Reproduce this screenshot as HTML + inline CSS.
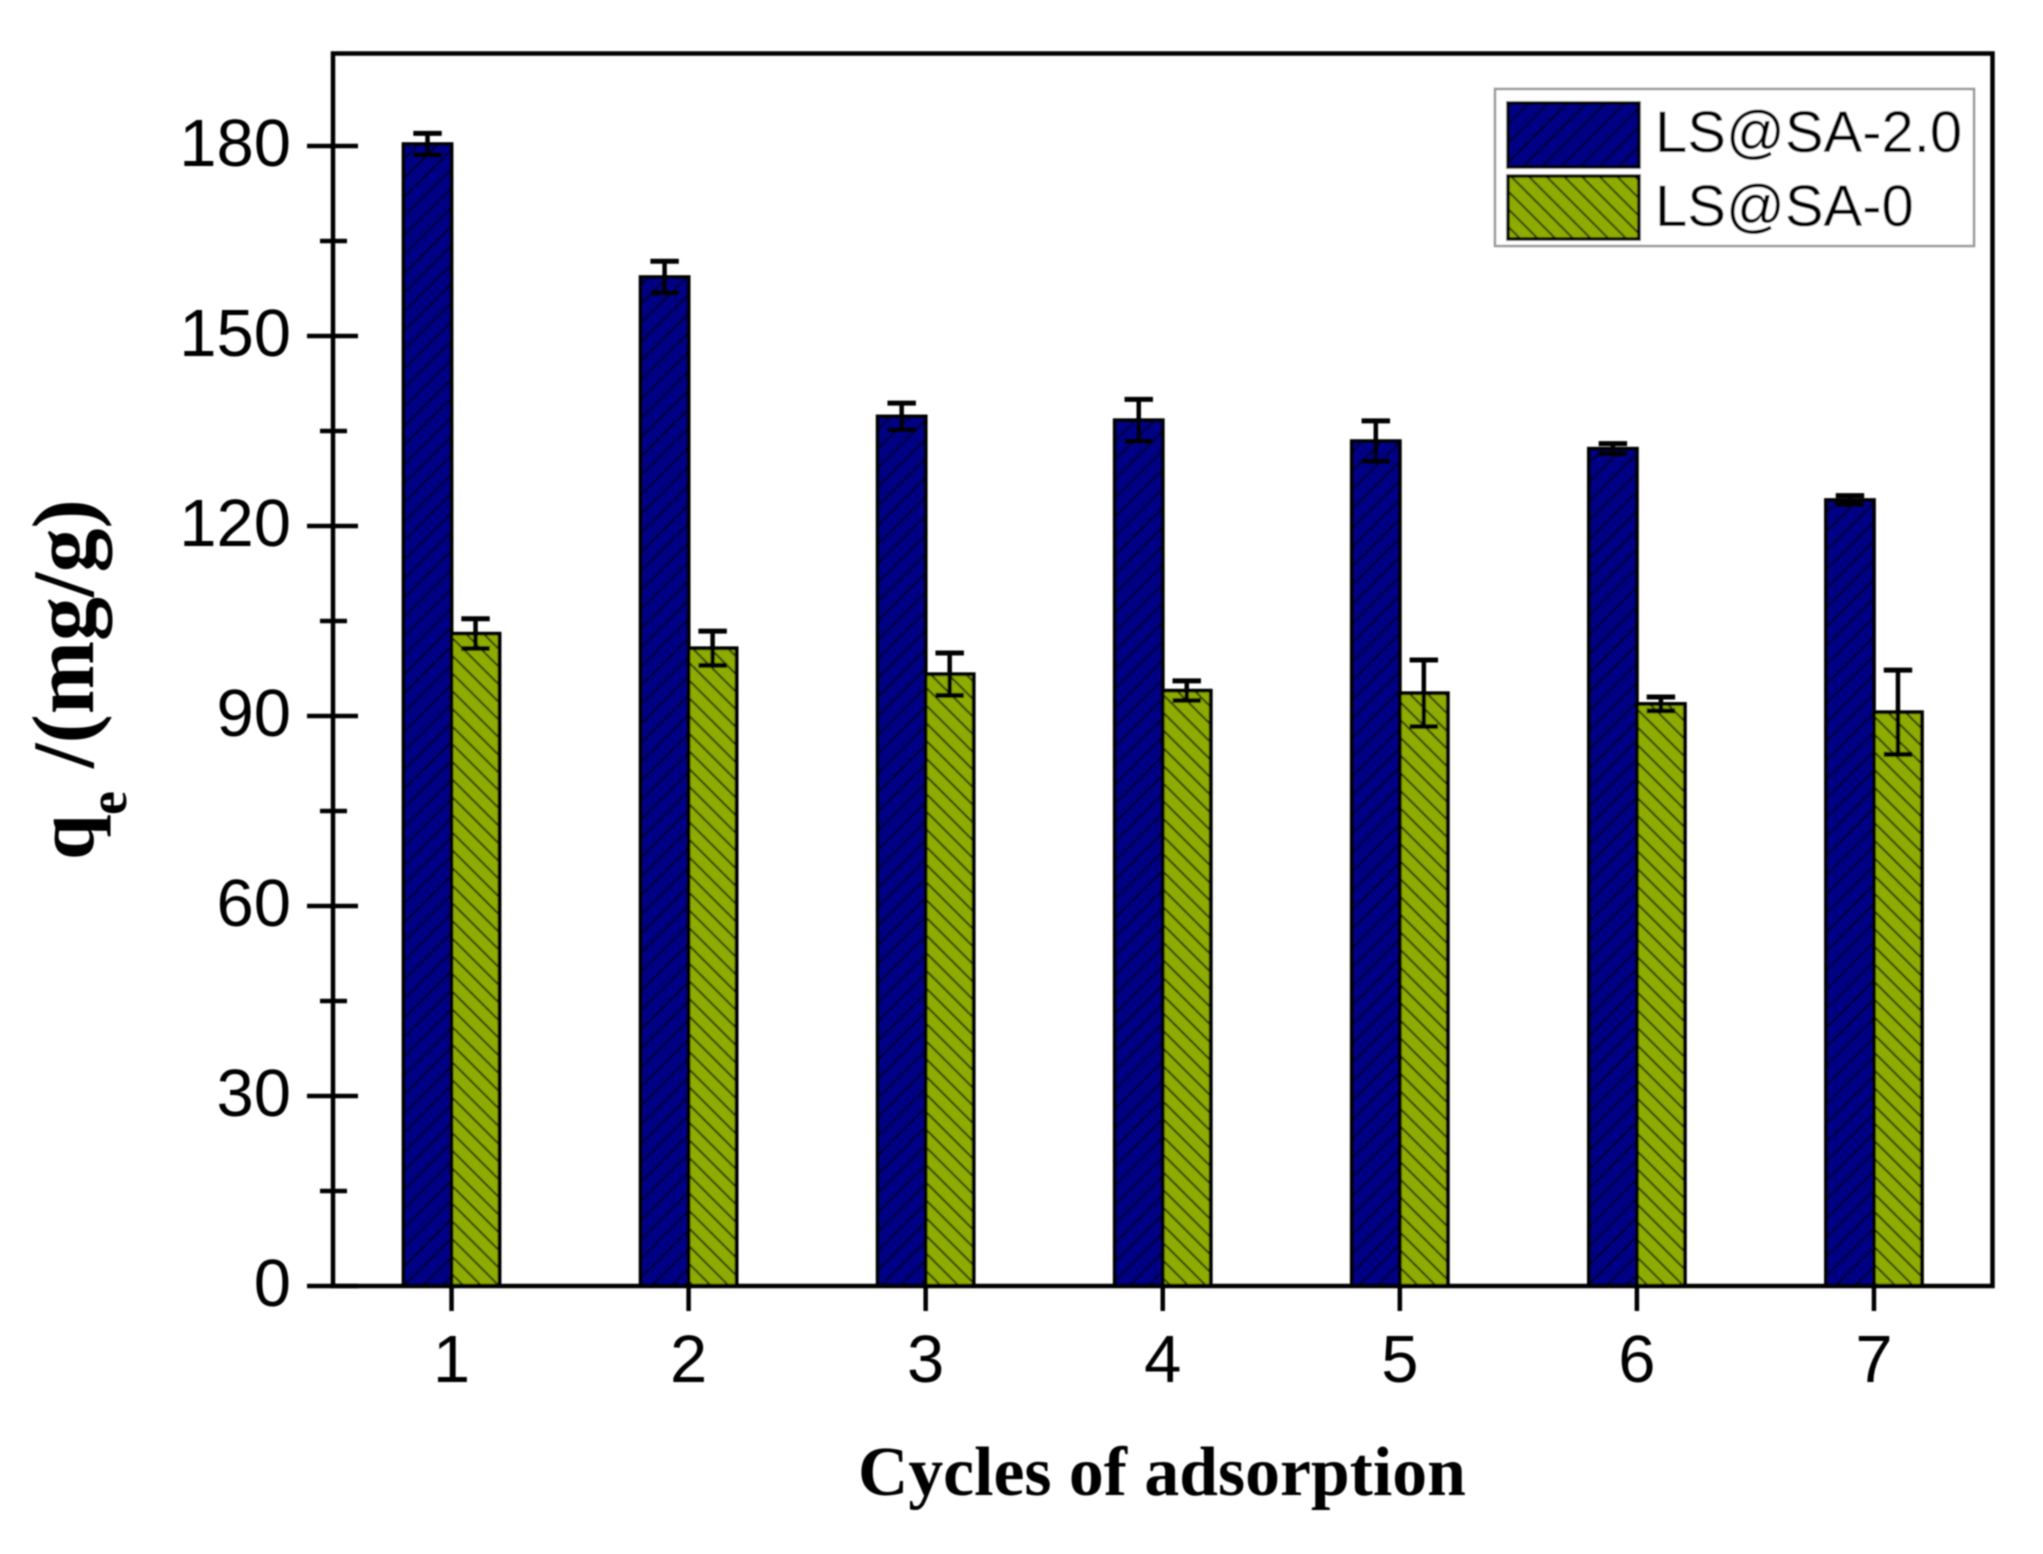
<!DOCTYPE html>
<html lang="en">
<head>
<meta charset="utf-8">
<title>Adsorption capacity over cycles</title>
<style>
html,body{margin:0;padding:0;background:#fff;}
svg{display:block;}
.tick-label{font-family:"Liberation Sans",sans-serif;font-size:67px;fill:#000;}
.legend-label{font-family:"Liberation Sans",sans-serif;font-size:58px;fill:#000;}
.axis-title{font-family:"Liberation Serif",serif;font-weight:bold;fill:#000;}
</style>
</head>
<body>
<svg id="chart" xmlns="http://www.w3.org/2000/svg" width="2043" height="1554" viewBox="0 0 2043 1554">
  <defs>
    <pattern id="hatch-blue" patternUnits="userSpaceOnUse" width="13.5" height="13.5" patternTransform="rotate(45)">
      <rect width="13.5" height="13.5" fill="#000084"/>
      <line x1="6.7" y1="0" x2="6.7" y2="13.5" stroke="#000038" stroke-width="2.2"/>
    </pattern>
    <pattern id="hatch-green" patternUnits="userSpaceOnUse" width="12.5" height="12.5" patternTransform="rotate(-45)">
      <rect width="12.5" height="12.5" fill="#8dab00"/>
      <line x1="6.2" y1="0" x2="6.2" y2="12.5" stroke="#344000" stroke-width="2"/>
    </pattern>
    <filter id="soft" filterUnits="userSpaceOnUse" x="0" y="0" width="2043" height="1554">
      <feGaussianBlur stdDeviation="0.9"/>
    </filter>
  </defs>
  <rect x="0" y="0" width="2043" height="1554" fill="#fff"/>
  <g id="root" filter="url(#soft)">
    <g id="bars"></g>
    <g id="errors"></g>
    <rect x="333" y="53.5" width="1659.5" height="1232.5" fill="none" stroke="#000" stroke-width="4.5"/>
    <g id="yaxis"></g>
    <g id="xaxis"></g>

    <g>
      <rect x="1495" y="89" width="479" height="157" fill="#fff" stroke="#999" stroke-width="2.5"/>
      <rect x="1508" y="103" width="131" height="64" fill="url(#hatch-blue)" stroke="#000" stroke-width="3.5"/>
      <text class="legend-label" x="1655" y="152">LS@SA-2.0</text>
      <rect x="1508" y="176" width="131" height="63" fill="url(#hatch-green)" stroke="#000" stroke-width="3.5"/>
      <text class="legend-label" x="1655" y="226">LS@SA-0</text>
    </g>

    <text class="axis-title" x="858" y="1495" font-size="69.7">Cycles of adsorption</text>
    <g transform="translate(93,860) rotate(-90)">
      <text class="axis-title" x="0" y="0" font-size="82">q</text>
      <text class="axis-title" x="45" y="33" font-size="54">e</text>
      <text class="axis-title" x="92" y="0" font-size="88">/(mg/g)</text>
    </g>
  </g>
</svg>
<script>
// Chart data
const categories = ["1", "2", "3", "4", "5", "6", "7"];
const seriesBlue = [180.3, 159.3, 137.3, 136.7, 133.4, 132.2, 124.1];
const errorBlue = [1.7, 2.5, 2.1, 3.3, 3.2, 0.8, 0.7];
const seriesGreen = [103.0, 100.7, 96.6, 94.0, 93.6, 91.9, 90.6];
const errorGreen = [2.35, 2.7, 3.35, 1.55, 5.25, 1.1, 6.65];
const yMajorTicks = [0, 30, 60, 90, 120, 150, 180];
const yMinorTicks = [15, 45, 75, 105, 135, 165];

// Axis functions
function yScale(v) { return 1286 - v * (1140 / 180); }
function xScale(c) { return 333 + (c - 0.5) * (1659.5 / 7); }
const barWidthUnits = 0.2025;

const NS = 'http://www.w3.org/2000/svg';
function make(parent, tag, props) {
  const el = document.createElementNS(NS, tag);
  for (const k in props) el.setAttribute(k, props[k]);
  parent.appendChild(el);
  return el;
}

const barsG = document.getElementById('bars');
const errG = document.getElementById('errors');
const yG = document.getElementById('yaxis');
const xG = document.getElementById('xaxis');

function drawBar(cat, i, value, offsetStart, fill, key) {
  const x0 = xScale(cat + offsetStart);
  const x1 = xScale(cat + offsetStart + barWidthUnits);
  const top = yScale(value);
  const bar = make(barsG, 'rect', {
    x: x0, y: top, width: x1 - x0, height: yScale(0) - top,
    fill: fill, stroke: '#000', 'stroke-width': 3.8
  });
  
  
}

function drawError(cat, i, value, err, offset, key) {
  const cx = xScale(cat + offset);
  const yHi = yScale(value + err);
  const yLo = yScale(value - err);
  const half = xScale(0.5 + 0.06) - xScale(0.5);
  const g = make(errG, 'g', { stroke: '#000', fill: 'none' });
  
  
  make(g, 'line', { x1: cx, y1: yHi, x2: cx, y2: yLo, 'stroke-width': 4.5 });
  make(g, 'line', { x1: cx - half, y1: yHi, x2: cx + half, y2: yHi, 'stroke-width': 5 });
  make(g, 'line', { x1: cx - half, y1: yLo, x2: cx + half, y2: yLo, 'stroke-width': 5 });
}

categories.forEach(function (label, i) {
  const cat = i + 1;
  drawBar(cat, i, seriesBlue[i], -barWidthUnits, 'url(#hatch-blue)', 'ls-sa-2-0');
  drawBar(cat, i, seriesGreen[i], 0, 'url(#hatch-green)', 'ls-sa-0');
  drawError(cat, i, seriesBlue[i], errorBlue[i], -barWidthUnits / 2, 'ls-sa-2-0');
  drawError(cat, i, seriesGreen[i], errorGreen[i], barWidthUnits / 2, 'ls-sa-0');

  const tx = xScale(cat);
  const tick = make(xG, 'line', { x1: tx, y1: 1286, x2: tx, y2: 1311, stroke: '#000', 'stroke-width': 4.5 });
  
  
  const t = make(xG, 'text', { x: tx, y: 1382, 'text-anchor': 'middle', class: 'tick-label' });
  t.textContent = label;
  
  
});

yMajorTicks.forEach(function (v) {
  const y = yScale(v);
  const tick = make(yG, 'line', { x1: 307, y1: y, x2: 358, y2: y, stroke: '#000', 'stroke-width': 4.5 });
  
  
  const t = make(yG, 'text', { x: 291, y: y + 20, 'text-anchor': 'end', class: 'tick-label' });
  t.textContent = String(v);
  
  
});

yMinorTicks.forEach(function (v) {
  const y = yScale(v);
  const tick = make(yG, 'line', { x1: 320, y1: y, x2: 347, y2: y, stroke: '#000', 'stroke-width': 4.5 });
  
  
});
</script>
</body>
</html>
